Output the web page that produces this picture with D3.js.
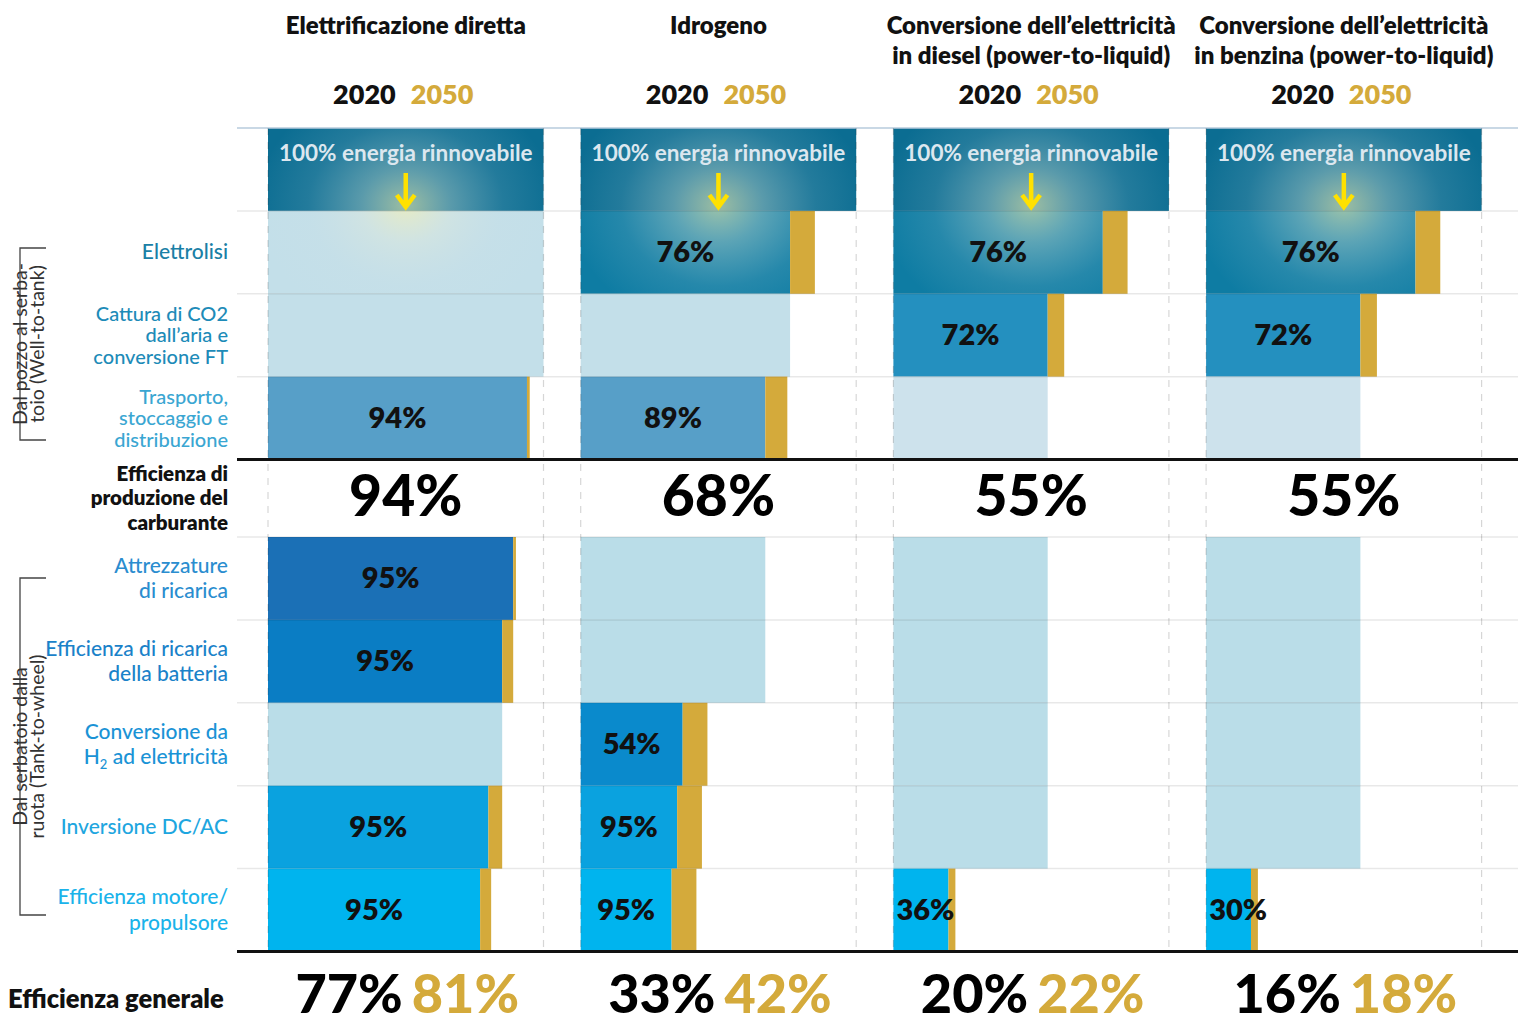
<!DOCTYPE html>
<html>
<head>
<meta charset="utf-8">
<script src="https://cdn.jsdelivr.net/npm/d3@7/dist/d3.min.js"></script>
<style>
  html, body { margin: 0; padding: 0; background: #fff; }
  svg { display: block; font-family: Lato, "Open Sans", sans-serif; }
</style>
</head>
<body>
<svg id="chart" width="1518" height="1025"></svg>
<script>
// ---------------- DATA ----------------
const pathways = ["Elettrificazione diretta", "Idrogeno", "Diesel PtL", "Benzina PtL"];
const headerLines = [
  ["Elettrificazione diretta"],
  ["Idrogeno"],
  ["Conversione dell’elettricità", "in diesel (power-to-liquid)"],
  ["Conversione dell’elettricità", "in benzina (power-to-liquid)"]
];
const years = ["2020", "2050"];
const sourceLabel = "100% energia rinnovabile";

// steps: index 0 = source row; 1-3 well-to-tank; 4-8 tank-to-wheel
const stepLabels = [
  [],
  ["Elettrolisi"],
  ["Cattura di CO2", "dall’aria e", "conversione FT"],
  ["Trasporto,", "stoccaggio e", "distribuzione"],
  ["Attrezzature", "di ricarica"],
  ["Efficienza di ricarica", "della batteria"],
  ["Conversione da", "H2 ad elettricità"],
  ["Inversione DC/AC"],
  ["Efficienza motore/", "propulsore"]
];
const productionLabel = ["Efficienza di", "produzione del", "carburante"];
const overallLabel = "Efficienza generale";
const wttLabel = ["Dal pozzo al serba-", "toio (Well-to-tank)"];
const ttwLabel = ["Dal serbatoio dalla", "ruota (Tank-to-wheel)"];

// cumulative efficiency (% of the renewable input) after each step, 2020
const cum2020Elettrificazione = [100, 100, 100, 94, 89, 85, 85, 80, 77];
const cum2020Idrogeno         = [100, 76, 76, 67, 67, 67, 37, 35, 33];
const cum2020Diesel           = [100, 76, 56, 56, 56, 56, 56, 56, 20];
const cum2020Benzina          = [100, 76, 56, 56, 56, 56, 56, 56, 16.3];
// cumulative efficiency 2050 (only on steps that apply)
const cum2050Elettrificazione = [null, null, null, 95, 90, 89, null, 85, 81];
const cum2050Idrogeno         = [null, 85, null, 75, null, null, 46, 44, 42];
const cum2050Diesel           = [null, 85, 62, null, null, null, null, null, 22.5];
const cum2050Benzina          = [null, 85, 62, null, null, null, null, null, 18.8];
// efficiency of each single step (null = step not applicable)
const stepEffElettrificazione = [null, null, null, "94%", "95%", "95%", null, "95%", "95%"];
const stepEffIdrogeno         = [null, "76%", null, "89%", null, null, "54%", "95%", "95%"];
const stepEffDiesel           = [null, "76%", "72%", null, null, null, null, null, "36%"];
const stepEffBenzina          = [null, "76%", "72%", null, null, null, null, null, "30%"];

const productionEff = ["94%", "68%", "55%", "55%"];
const overall2020 = ["77%", "33%", "20%", "16%"];
const overall2050 = ["81%", "42%", "22%", "18%"];

const cum2020 = [cum2020Elettrificazione, cum2020Idrogeno, cum2020Diesel, cum2020Benzina];
const cum2050 = [cum2050Elettrificazione, cum2050Idrogeno, cum2050Diesel, cum2050Benzina];
const stepEff = [stepEffElettrificazione, stepEffIdrogeno, stepEffDiesel, stepEffBenzina];

// ---------------- STYLE ----------------
const stepColors = ["#0b6d92", "#0e7ca3", "#2490bf", "#579fc8", "#1b70b6", "#0a7dc4", "#0a8acc", "#0aa2df", "#00b4ee"];
const lightColors = ["#0b6d92", "#c3dfe9", "#c3dfe9", "#cde2ec", "#badde8", "#badde8", "#badde8", "#badde8", "#badde8"];
const labelColors = ["#000", "#1a80a6", "#1d8bb8", "#3aa6d2", "#2a8dcf", "#1a82c9", "#1a93d6", "#1ea6df", "#1ab3ea"];
const gold = "#d4aa3b";

// ---------------- SCALES ----------------
const svg = d3.select("#chart");
const colScale = d3.scaleBand().domain(pathways).range([268, 268 + 4 * 312.7]);
const colW = 275.5;
const xPct = d3.scaleLinear().domain([0, 100]).range([0, colW]);
const yUpper = d3.scaleBand().domain([0, 1, 2, 3]).range([128, 459.5]);
const yLower = d3.scaleBand().domain([4, 5, 6, 7, 8]).range([537, 951.5]);
const rowY = i => i <= 3 ? yUpper(i) : yLower(i);
const rowH = i => i <= 3 ? yUpper.bandwidth() : yLower.bandwidth();

const defs = svg.append("defs");
const grad = defs.append("radialGradient").attr("id", "glow");
grad.append("stop").attr("offset", "0%").attr("stop-color", "rgb(255,244,170)").attr("stop-opacity", 0.6);
grad.append("stop").attr("offset", "30%").attr("stop-color", "rgb(230,235,215)").attr("stop-opacity", 0.36);
grad.append("stop").attr("offset", "65%").attr("stop-color", "rgb(210,225,228)").attr("stop-opacity", 0.12);
grad.append("stop").attr("offset", "100%").attr("stop-color", "rgb(210,225,228)").attr("stop-opacity", 0);

// ---------------- BARS ----------------
const gBars = svg.append("g");
pathways.forEach((p, c) => {
  const x0 = colScale(p);
  const g = gBars.append("g");
  for (let r = 0; r < 9; r++) {
    const applies = r === 0 || stepEff[c][r] !== null;
    g.append("rect")
      .attr("x", x0).attr("y", rowY(r))
      .attr("width", xPct(cum2020[c][r])).attr("height", rowH(r))
      .attr("fill", applies ? stepColors[r] : lightColors[r]);
    if (cum2050[c][r] !== null) {
      g.append("rect")
        .attr("x", x0 + xPct(cum2020[c][r])).attr("y", rowY(r))
        .attr("width", xPct(cum2050[c][r] - cum2020[c][r])).attr("height", rowH(r))
        .attr("fill", gold);
    }
  }
  // glow around the arrow
  const clipId = "clip" + c;
  const cp = defs.append("clipPath").attr("id", clipId);
  cp.append("rect").attr("x", x0).attr("y", rowY(0)).attr("width", xPct(100)).attr("height", rowH(0));
  cp.append("rect").attr("x", x0).attr("y", rowY(1)).attr("width", xPct(cum2020[c][1])).attr("height", rowH(1));
  const cx = x0 + xPct(50);
  g.append("rect")
    .attr("clip-path", `url(#${clipId})`)
    .attr("x", cx - 150).attr("y", 205 - 125)
    .attr("width", 300).attr("height", 250)
    .attr("fill", "url(#glow)");
});

// ---------------- GRID ----------------
const gGrid = svg.append("g");
const bounds = [128 + yUpper.bandwidth(), 128 + 2 * yUpper.bandwidth(), 128 + 3 * yUpper.bandwidth(), 537,
  537 + yLower.bandwidth(), 537 + 2 * yLower.bandwidth(), 537 + 3 * yLower.bandwidth(), 537 + 4 * yLower.bandwidth()];
bounds.forEach(y => gGrid.append("line").attr("x1", 237).attr("x2", 1518).attr("y1", y).attr("y2", y)
  .attr("stroke", "rgba(0,0,0,0.09)").attr("stroke-width", 1.5));
gGrid.append("line").attr("x1", 237).attr("x2", 1518).attr("y1", 128).attr("y2", 128)
  .attr("stroke", "#b7cbdc").attr("stroke-width", 1.5);
pathways.forEach(p => {
  const x0 = colScale(p);
  [x0, x0 + colW].forEach(x => gGrid.append("line")
    .attr("x1", x).attr("x2", x).attr("y1", 128).attr("y2", 951)
    .attr("stroke", "rgba(0,0,0,0.16)").attr("stroke-width", 1.2).attr("stroke-dasharray", "7,7"));
});
[459.5, 951.5].forEach(y => gGrid.append("line").attr("x1", 237).attr("x2", 1518).attr("y1", y).attr("y2", y)
  .attr("stroke", "#111").attr("stroke-width", 3));

// ---------------- TEXT IN COLUMNS ----------------
const gText = svg.append("g");
pathways.forEach((p, c) => {
  const x0 = colScale(p);
  const cx = x0 + xPct(50);
  // headers
  headerLines[c].forEach((line, i) => {
    gText.append("text").attr("x", cx).attr("y", 34 + i * 29.5)
      .attr("text-anchor", "middle").attr("font-size", 24).attr("font-weight", 800)
      .attr("fill", "#111").text(line);
  });
  gText.append("text").attr("x", cx - 10).attr("y", 104).attr("text-anchor", "end")
    .attr("font-size", 27).attr("font-weight", 800).attr("fill", "#111").text(years[0]);
  gText.append("text").attr("x", cx + 5).attr("y", 104).attr("text-anchor", "start")
    .attr("font-size", 27).attr("font-weight", 800).attr("fill", gold).text(years[1]);
  // source row
  gText.append("text").attr("x", cx).attr("y", 161).attr("text-anchor", "middle")
    .attr("font-size", 22.5).attr("font-weight", 700).attr("fill", "#dce7ef").text(sourceLabel);
  gText.append("path")
    .attr("d", `M${cx},173 L${cx},206 M${cx - 9},195 L${cx},207 L${cx + 9},195`)
    .attr("fill", "none").attr("stroke", "#ffe100").attr("stroke-width", 4.5)
    .attr("stroke-linejoin", "miter");
  // step efficiencies
  for (let r = 1; r < 9; r++) {
    if (stepEff[c][r] === null) continue;
    const w = xPct(cum2020[c][r]);
    gText.append("text")
      .attr("x", x0 + Math.max(w / 2, 32)).attr("y", rowY(r) + rowH(r) / 2 + 10)
      .attr("text-anchor", "middle").attr("font-size", 29).attr("font-weight", 800)
      .attr("fill", "#111").text(stepEff[c][r]);
  }
  // production efficiency
  gText.append("text").attr("x", cx).attr("y", 516).attr("text-anchor", "middle")
    .attr("font-size", 57).attr("font-weight", 900).attr("fill", "#000").text(productionEff[c]);
  // overall
  gText.append("text").attr("x", cx - 3).attr("y", 1013).attr("text-anchor", "end")
    .attr("font-size", 54).attr("font-weight", 900).attr("fill", "#000").text(overall2020[c]);
  gText.append("text").attr("x", cx + 6).attr("y", 1013).attr("text-anchor", "start")
    .attr("font-size", 54).attr("font-weight", 900).attr("fill", gold).text(overall2050[c]);
});

// ---------------- ROW LABELS ----------------
const gLab = svg.append("g");
for (let r = 1; r < 9; r++) {
  const lines = stepLabels[r];
  const three = lines.length === 3;
  const lh = three ? 21.5 : 25.5;
  const cy = rowY(r) + rowH(r) / 2;
  lines.forEach((line, i) => {
    const t = gLab.append("text").attr("x", 228)
      .attr("y", cy + (i - (lines.length - 1) / 2) * lh + 7)
      .attr("text-anchor", "end").attr("font-size", three ? 20 : 21).attr("font-weight", 500)
      .attr("fill", labelColors[r]);
    if (line.startsWith("H2")) {
      t.append("tspan").text("H");
      t.append("tspan").attr("font-size", 13).attr("dy", 5).text("2");
      t.append("tspan").attr("dy", -5).text(line.slice(2));
    } else {
      t.text(line);
    }
  });
}
productionLabel.forEach((line, i) => {
  gLab.append("text").attr("x", 228).attr("y", 498 + (i - 1) * 24.5 + 7)
    .attr("text-anchor", "end").attr("font-size", 20.5).attr("font-weight", 800)
    .attr("fill", "#111").text(line);
});
gLab.append("text").attr("x", 8).attr("y", 1008).attr("font-size", 25.5).attr("font-weight", 800)
  .attr("fill", "#111").text(overallLabel);

// ---------------- BRACKETS ----------------
function bracket(y1, y2, lines) {
  const g = svg.append("g");
  g.append("path").attr("d", `M46,${y1} L20,${y1} L20,${y2} L46,${y2}`)
    .attr("fill", "none").attr("stroke", "#444").attr("stroke-width", 1.3);
  const cy = (y1 + y2) / 2;
  lines.forEach((line, i) => {
    g.append("text").attr("transform", `translate(${27 + i * 17},${cy}) rotate(-90)`)
      .attr("text-anchor", "middle").attr("font-size", 19.5).attr("font-weight", 400)
      .attr("fill", "#333").text(line);
  });
}
bracket(248, 440, wttLabel);
bracket(578, 915, ttwLabel);
</script>
</body>
</html>
